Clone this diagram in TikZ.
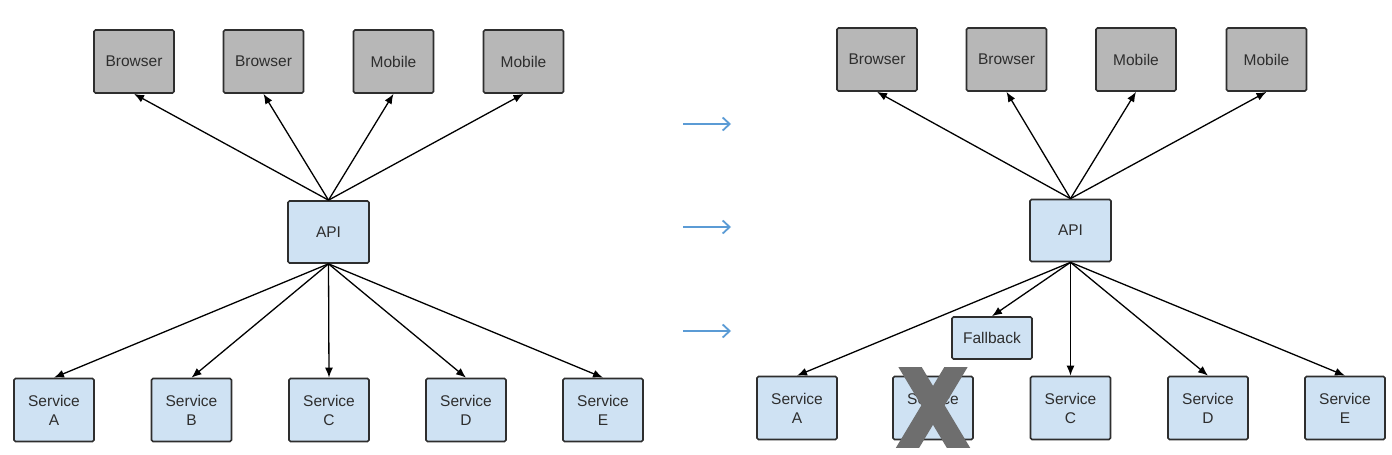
\documentclass[tikz,border=0pt]{standalone}
\usepackage{fontspec}
\setmainfont{Liberation Sans}
\usetikzlibrary{arrows.meta}
\definecolor{boxgray}{HTML}{B7B7B7}
\definecolor{boxblue}{HTML}{CFE2F3}
\definecolor{edge}{HTML}{2E2E2E}
\definecolor{txt}{HTML}{2E2E2E}
\definecolor{flow}{HTML}{5B9BD5}
\definecolor{xgray}{HTML}{6E6E6E}
\tikzset{
  base/.style={draw=edge, line width=1.7pt, rounded corners=1.5pt, text=txt,
    font=\fontsize{15.5}{19}\selectfont, align=center, inner sep=0pt},
  client/.style={base, fill=boxgray, minimum width=80pt, minimum height=63pt},
  apibox/.style={base, fill=boxblue, minimum width=81pt, minimum height=62pt},
  svc/.style={base, fill=boxblue, minimum width=80pt, minimum height=63pt},
  fb/.style={base, fill=boxblue, minimum width=80pt, minimum height=42pt},
  conn/.style={line width=1.3pt, black, -{Latex[length=10pt,width=8pt]}},
  flowarrow/.style={flow, line width=1.6pt, -{Straight Barb[length=7pt,width=13pt,line width=1.8pt]}},
}
\begin{document}
\begin{tikzpicture}[x=1pt,y=-1pt]
\useasboundingbox (0,0) rectangle (1392,455);
% ---------- left panel ----------
\node[client] (lb1) at (134,61.5) {Browser};
\node[client] (lb2) at (263.5,61.5) {Browser};
\node[client] (lm1) at (393.5,61.5) {Mobile};
\node[client] (lm2) at (523.5,61.5) {Mobile};
\node[apibox] (lapi) at (328.5,232) {API};
\node[svc] (lsa) at (54,410) {Service\\A};
\node[svc] (lsb) at (191.5,410) {Service\\B};
\node[svc] (lsc) at (329,410) {Service\\C};
\node[svc] (lsd) at (466,410) {Service\\D};
\node[svc] (lse) at (603,410) {Service\\E};
\foreach \t in {lb1,lb2,lm1,lm2} \draw[conn] (lapi.north) -- (\t.south);
\foreach \t in {lsa,lsb,lsc,lsd,lse} \draw[conn] (lapi.south) -- (\t.north);
% ---------- flow arrows ----------
\coordinate (f1s) at (683,124); \coordinate (f1e) at (731,124);
\coordinate (f2s) at (683,227); \coordinate (f2e) at (731,227);
\coordinate (f3s) at (683,331); \coordinate (f3e) at (731,331);
\draw[flowarrow] (f1s) -- (f1e);
\draw[flowarrow] (f2s) -- (f2e);
\draw[flowarrow] (f3s) -- (f3e);
% ---------- right panel ----------
\node[client] (rb1) at (877,59.5) {Browser};
\node[client] (rb2) at (1006.5,59.5) {Browser};
\node[client] (rm1) at (1136,59.5) {Mobile};
\node[client] (rm2) at (1266.5,59.5) {Mobile};
\node[apibox] (rapi) at (1070.5,230.5) {API};
\node[fb] (rfb) at (992,338) {Fallback};
\node[svc] (rsa) at (797,408) {Service\\A};
\node[svc] (rsb) at (933,408) {Service\\B};
\node[svc] (rsc) at (1070.5,408) {Service\\C};
\node[svc] (rsd) at (1208,408) {Service\\D};
\node[svc] (rse) at (1345,408) {Service\\E};
\foreach \t in {rb1,rb2,rm1,rm2} \draw[conn] (rapi.north) -- (\t.south);
\foreach \t in {rsa,rfb,rsc,rsd,rse} \draw[conn] (rapi.south) -- (\t.north);
% big X over Service B
\begin{scope}
\clip (890,367) rectangle (978,447);
\draw[xgray, line width=20pt] (898,347) -- (970,467);
\draw[xgray, line width=20pt] (968,347) -- (896,467);
\end{scope}
\end{tikzpicture}
\end{document}
